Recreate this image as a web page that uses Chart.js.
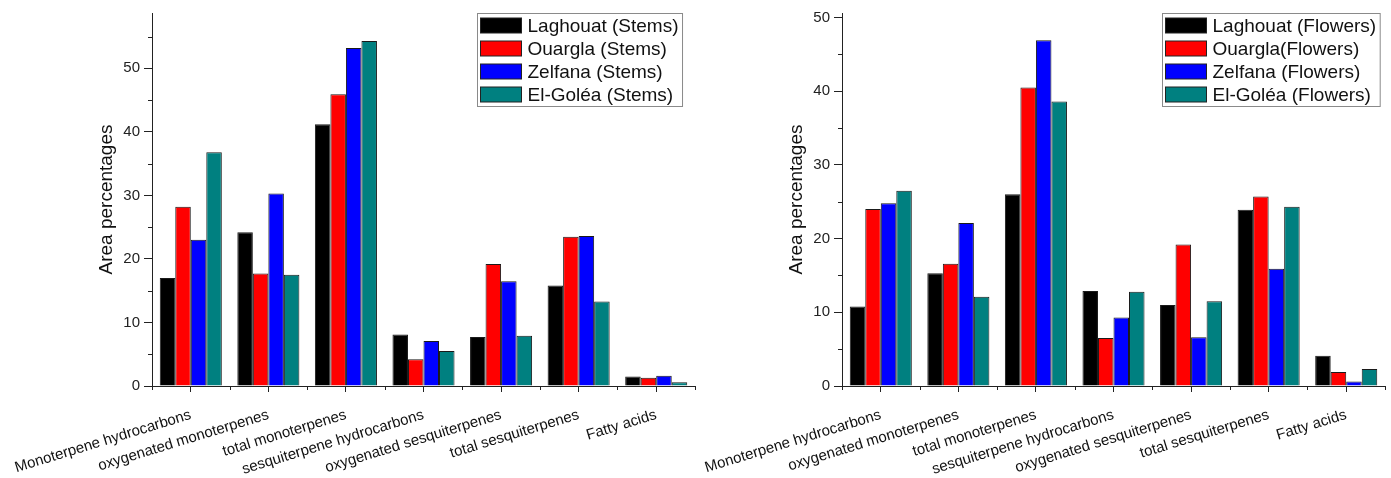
<!DOCTYPE html>
<html>
<head>
<meta charset="utf-8">
<title>Area percentages - Stems and Flowers</title>
<script src="https://cdn.jsdelivr.net/npm/chart.js@4.4.1/dist/chart.umd.min.js"></script>
<style>
    html, body { margin: 0; padding: 0; background: #fff; }
    #wrap { position: relative; width: 1391px; height: 478px; }
    .box { position: absolute; top: 0; height: 478px; }
    #leftBox { left: 0; width: 700px; }
    #rightBox { left: 690px; width: 701px; }
</style>
</head>
<body>
<div id="wrap">
    <div class="box" id="leftBox"><canvas id="stemsChart"></canvas></div>
    <div class="box" id="rightBox"><canvas id="flowersChart"></canvas></div>
</div>
<script>
// ====== Data ======
const categories = [
    "Monoterpene hydrocarbons",
    "oxygenated monoterpenes",
    "total monoterpenes",
    "sesquiterpene hydrocarbons",
    "oxygenated sesquiterpenes",
    "total sesquiterpenes",
    "Fatty acids"
];

const stemLabels = ["Laghouat (Stems)", "Ouargla (Stems)", "Zelfana (Stems)", "El-Goléa (Stems)"];
const laghouatStems = [17.0, 24.2, 41.2, 8.1, 7.7, 15.8, 1.5];
const ouarglaStems  = [28.2, 17.7, 45.9, 4.2, 19.2, 23.5, 1.3];
const zelfanaStems  = [23.0, 30.3, 53.2, 7.1, 16.5, 23.6, 1.6];
const elgoleaStems  = [36.8, 17.5, 54.3, 5.5, 7.9, 13.3, 0.6];

const flowerLabels = ["Laghouat (Flowers)", "Ouargla(Flowers)", "Zelfana (Flowers)", "El-Goléa (Flowers)"];
const laghouatFlowers = [10.8, 15.3, 26.0, 12.9, 11.0, 23.9, 4.1];
const ouarglaFlowers  = [24.0, 16.6, 40.5, 6.5, 19.2, 25.7, 1.9];
const zelfanaFlowers  = [24.8, 22.1, 46.9, 9.3, 6.6, 15.9, 0.6];
const elgoleaFlowers  = [26.5, 12.1, 38.6, 12.8, 11.5, 24.3, 2.3];

const yTickStep = 10;
const seriesColors = ["#000000", "#ff0000", "#0000ff", "#008080"];
const FONT = "'Liberation Sans', Arial, sans-serif";

// ====== Plugins ======
// Origin-style minor ticks (half steps on y, category boundaries on x)
const minorTicks = {
    id: "minorTicks",
    afterDraw(chart) {
        const { ctx, scales: { x, y } } = chart;
        ctx.save();
        ctx.strokeStyle = "#222";
        ctx.lineWidth = 1;
        ctx.beginPath();
        for (let v = yTickStep / 2; v < y.max; v += yTickStep) {
            const py = Math.round(y.getPixelForValue(v)) + 0.5;
            ctx.moveTo(x.left, py);
            ctx.lineTo(x.left - 4, py);
        }
        for (let i = 0; i <= categories.length; i++) {
            const px = Math.round(x.getPixelForValue(i - 0.5)) + 0.5;
            ctx.moveTo(px, y.bottom);
            ctx.lineTo(px, y.bottom + 4);
        }
        ctx.stroke();
        ctx.restore();
    }
};

// Boxed legend in the upper right corner of the plot
const boxLegend = {
    id: "boxLegend",
    afterDraw(chart, args, opts) {
        const { ctx, chartArea } = chart;
        const sets = chart.data.datasets;
        ctx.save();
        ctx.font = `19px ${FONT}`;
        let textW = 0;
        sets.forEach((ds) => { textW = Math.max(textW, ctx.measureText(ds.label).width); });
        const swW = 41, swH = 15, rowH = 23, padL = 3, gap = 6, padR = 4;
        const w = padL + swW + gap + textW + padR;
        const h = rowH * sets.length + 1;
        const x0 = Math.round(chartArea.right - opts.inset - w) + 0.5;
        const y0 = Math.round(chartArea.top) + 0.5;
        ctx.strokeStyle = "#8a8a8a";
        ctx.lineWidth = 1;
        ctx.strokeRect(x0, y0, w, h);
        ctx.textBaseline = "middle";
        sets.forEach((ds, i) => {
            const cy = y0 + 12 + i * rowH;
            ctx.fillStyle = ds.backgroundColor;
            ctx.fillRect(x0 + padL, cy - swH / 2, swW, swH);
            ctx.strokeStyle = "#222";
            ctx.strokeRect(x0 + padL, cy - swH / 2, swW, swH);
            ctx.fillStyle = "#111";
            ctx.fillText(ds.label, x0 + padL + swW + gap, cy + 1);
        });
        ctx.restore();
    }
};

// ====== Chart builder ======
function makeChart(canvasId, labels, series, yMax, padRight, legendInset) {
    const datasets = series.map((data, i) => ({
        label: labels[i],
        data,
        backgroundColor: seriesColors[i],
        borderColor: "#1a1a1a",
        borderWidth: 1,
        categoryPercentage: 0.8,
        barPercentage: 1.0
    }));

    return new Chart(document.getElementById(canvasId), {
        type: "bar",
        data: { labels: categories, datasets },
        plugins: [minorTicks, boxLegend],
        options: {
            responsive: true,
            maintainAspectRatio: false,
            animation: false,
            layout: { padding: { left: 91, top: 10, right: padRight, bottom: 0 } },
            plugins: {
                legend: { display: false },
                tooltip: { enabled: false },
                boxLegend: { inset: legendInset }
            },
            scales: {
                x: {
                    offset: true,
                    grid: {
                        display: true,
                        offset: false,
                        drawOnChartArea: false,
                        drawTicks: true,
                        tickLength: 6,
                        tickColor: "#222"
                    },
                    border: { display: true, color: "#222", width: 1 },
                    ticks: {
                        autoSkip: false,
                        minRotation: 17,
                        maxRotation: 17,
                        padding: 14,
                        color: "#111",
                        font: { family: FONT, size: 15 }
                    },
                    afterFit(scale) {
                        // rotated labels may run past the plot's left edge, as in the original
                        scale.height = 92;
                        scale.paddingLeft = 0;
                        scale.paddingRight = 0;
                    }
                },
                y: {
                    min: 0,
                    max: yMax,
                    grid: {
                        display: true,
                        drawOnChartArea: false,
                        drawTicks: true,
                        tickLength: 8,
                        tickColor: "#222"
                    },
                    border: { display: true, color: "#222", width: 1 },
                    ticks: {
                        stepSize: yTickStep,
                        padding: 4,
                        color: "#222",
                        font: { family: FONT, size: 15 }
                    },
                    afterBuildTicks(scale) {
                        const ticks = [];
                        for (let v = 0; v <= scale.max; v += yTickStep) ticks.push({ value: v });
                        scale.ticks = ticks;
                    },
                    title: {
                        display: true,
                        text: "Area percentages",
                        color: "#111",
                        font: { family: FONT, size: 19 }
                    },
                    afterFit(scale) { scale.width = 61; }
                }
            }
        }
    });
}

makeChart("stemsChart", stemLabels,
    [laghouatStems, ouarglaStems, zelfanaStems, elgoleaStems], 58.7, 5, 13);
makeChart("flowersChart", flowerLabels,
    [laghouatFlowers, ouarglaFlowers, zelfanaFlowers, elgoleaFlowers], 50.6, 6, 5);
</script>
</body>
</html>
